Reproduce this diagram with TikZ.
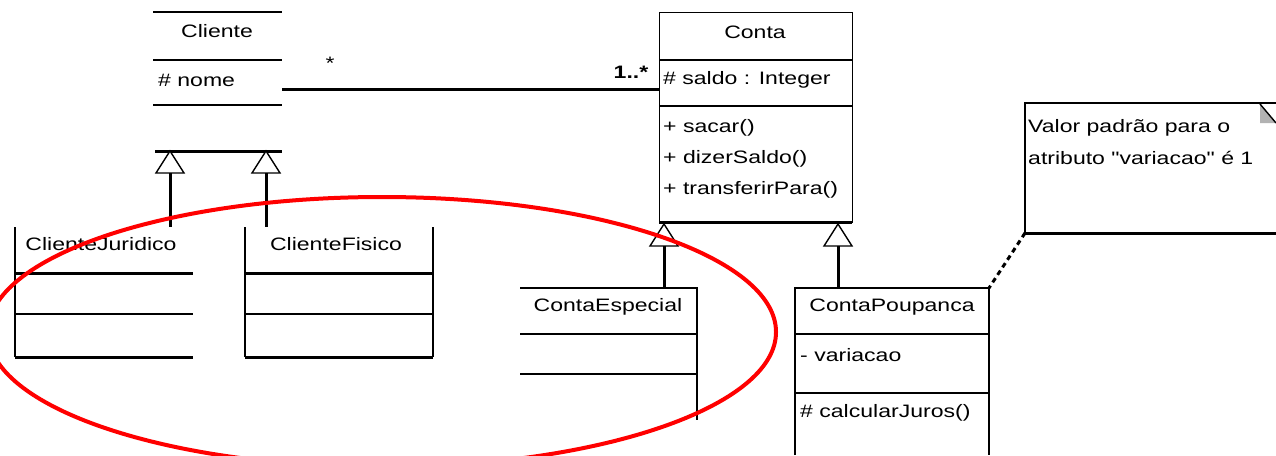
\documentclass[tikz,border=0pt]{standalone}
\usepackage{fontspec}
\setmainfont{Liberation Sans}[FakeStretch=1.28]
\newfontfamily\notefont{Liberation Sans}[FakeStretch=1.28]
\begin{document}
\begin{tikzpicture}[x=1pt,y=-1pt,
  thinline/.style={line width=1.4pt},
  boldline/.style={line width=3pt},
  lbl/.style={inner sep=0pt,font=\fontsize{18}{20}\selectfont},
  lblw/.style={lbl,anchor=west},
  gentri/.style={thinline,fill=white}]
\useasboundingbox (0,0) rectangle (1276,455);
% ---------- Cliente ----------
\draw[thinline] (153,12) -- (282,12) (153,60) -- (282,60) (153,105) -- (282,105);
\node[lbl] (clienteT) at (217,31) {Cliente};
\node[lblw] (nome) at (158,80) {\# nome};
\coordinate (clienteR) at (282,89);
% ---------- Conta ----------
\node[draw,thinline,minimum width=193pt,minimum height=210pt,anchor=north west,inner sep=0pt] (conta) at (659,12) {};
\draw[thinline] (659,60) -- (852,60) (659,106) -- (852,106);
\draw[boldline] (659,222) -- (852,222);
\node[lbl] (contaT) at (755,32) {Conta};
\node[lblw] (saldo) at (663,80) {\# saldo : Integer};
\node[lblw] (m1) at (663,128) {+ sacar()};
\node[lblw] (m2) at (663,159) {+ dizerSaldo()};
\node[lblw] (m3) at (663,190) {+ transferirPara()};
% association
\draw[boldline] (clienteR) -- (clienteR -| conta.west);
\node[lbl,font=\bfseries\fontsize{18}{20}\selectfont] (mult1) at (631,72) {1..*};
\node[lbl] (mult2) at (330,63) {*};
% ---------- generalization Cliente ----------
\coordinate (gA) at (170,151);
\coordinate (gB) at (266,151);
\draw[boldline] (155,151) -- (282,151);
\draw[gentri] (gA) -- ++(-14,22) -- ++(28,0) -- cycle;
\draw[gentri] (gB) -- ++(-14,22) -- ++(28,0) -- cycle;
% ---------- ClienteJuridico ----------
\coordinate (cjTop) at (170,227);
\draw[thinline] (15,227) -- (15,357) (15,314) -- (193,314);
\draw[boldline] (15,273) -- (193,273) (15,357) -- (193,357);
\node[lbl] (cjT) at (101,244) {ClienteJuridico};
% ---------- ClienteFisico ----------
\coordinate (cfTop) at (266,227);
\draw[thinline] (245,227) -- (245,357) (433,227) -- (433,357) (245,314) -- (433,314);
\draw[boldline] (245,273) -- (433,273) (245,357) -- (433,357);
\node[lbl] (cfT) at (336,244) {ClienteFisico};
\draw[boldline] ([yshift=-22pt]gA) -- (cjTop);
\draw[boldline] ([yshift=-22pt]gB) -- (cfTop);
% ---------- ContaEspecial ----------
\draw[thinline] (520,288) -- (697,288) -- (697,420) (520,334) -- (697,334) (520,374) -- (697,374);
\node[lbl] (ceT) at (608,307) {ContaEspecial};
\coordinate (ceTop) at (664,288);
\coordinate (gC) at (664,224);
\draw[gentri] (gC) -- ++(-14,22) -- ++(28,0) -- cycle;
\draw[boldline] ([yshift=-22pt]gC) -- (ceTop);
% ---------- ContaPoupanca ----------
\draw[thinline] (795,455) -- (795,288) -- (989,288) -- (989,455) (795,334) -- (989,334) (795,393) -- (989,393);
\node[lbl] (cpT) at (892,307) {ContaPoupanca};
\node[lblw] (var) at (800,355) {- variacao};
\node[lblw] (calc) at (800,413) {\# calcularJuros()};
\coordinate (cpTop) at (838,288);
\coordinate (cpTR) at (989,288);
\coordinate (gD) at (838,224);
\draw[gentri] (gD) -- ++(-14,22) -- ++(28,0) -- cycle;
\draw[boldline] ([yshift=-22pt]gD) -- (cpTop);
% ---------- Note ----------
\draw[thinline] (1276,103) -- (1025,103) -- (1025,233);
\draw[boldline] (1025,233) -- (1276,233);
\fill[gray!60] (1260,104) -- (1260,123) -- (1276,123) -- cycle;
\draw[thinline] (1260,104) -- (1276,123);
\coordinate (noteBL) at (1025,233);
\node[lblw,font=\notefont\fontsize{18}{20}\selectfont] (n1) at (1028,128) {Valor padrão para o};
\node[lblw,font=\notefont\fontsize{18}{20}\selectfont] (n2) at (1028,158) {atributo "variacao" é 1};
\draw[boldline,dash pattern=on 5pt off 4pt] (noteBL) -- (cpTR);
% ---------- red ellipse ----------
\draw[red,line width=4pt] (382,332) ellipse [x radius=394pt,y radius=135pt];
\end{tikzpicture}
\end{document}
